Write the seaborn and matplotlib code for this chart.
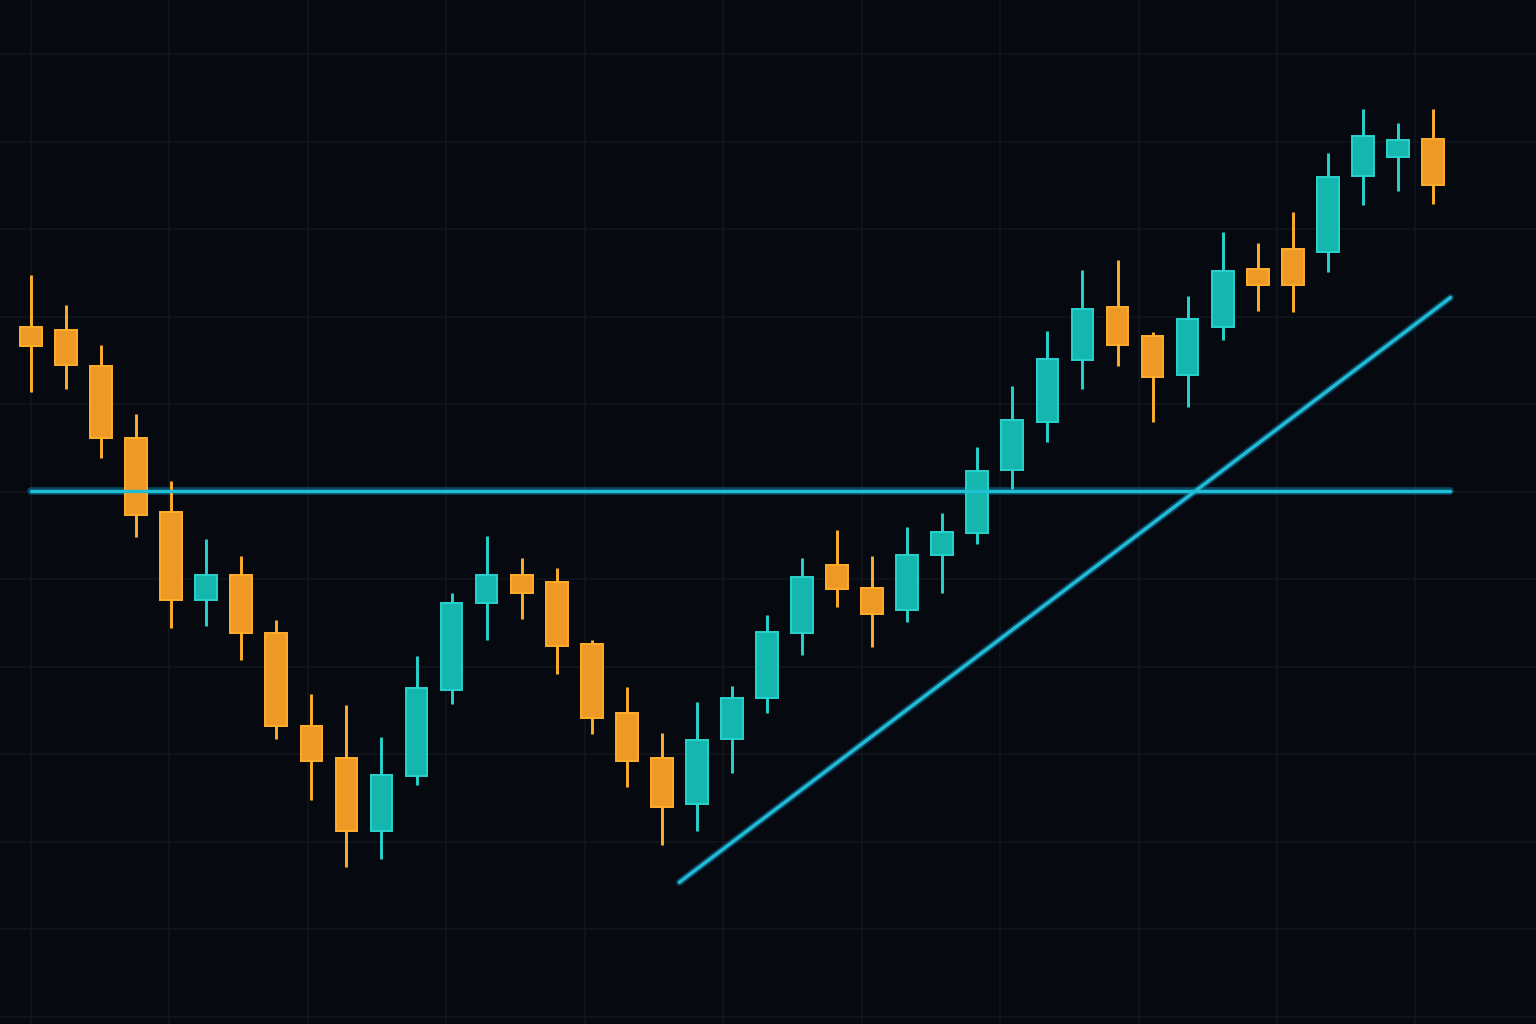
import numpy as np
import pandas as pd
import matplotlib
matplotlib.use("Agg")
import matplotlib.pyplot as plt
import seaborn as sns

# OHLC values (one candle per session)
opens = [78.8, 78.5, 74.4, 66.1, 57.7, 47.7, 50.5, 43.9, 33.3, 29.6,
         21.2, 27.5, 37.4, 47.3, 50.5, 49.7, 42.6, 34.7, 29.6, 24.3,
         31.8, 36.5, 43.9, 51.6, 49.0, 46.5, 52.8, 55.3, 62.5, 68.0,
         75.1, 81.1, 77.8, 73.3, 78.8, 85.5, 87.8, 87.4, 96.1, 98.3, 100.3]
closes = [76.7, 74.5, 66.1, 57.4, 47.7, 50.5, 43.9, 33.3, 29.3, 21.2,
          27.7, 37.6, 47.3, 50.5, 48.4, 42.4, 34.2, 29.3, 24.0, 31.7,
          36.5, 44.0, 50.3, 48.9, 46.1, 52.8, 55.4, 62.4, 68.2, 75.2,
          80.9, 76.8, 73.1, 79.7, 85.2, 83.6, 83.6, 96.0, 100.7, 100.2, 95.1]
highs = [84.8, 81.4, 76.8, 68.9, 61.2, 54.6, 52.7, 45.4, 36.9, 35.7,
         32.0, 41.3, 48.5, 55.0, 52.4, 51.3, 43.1, 37.7, 32.5, 36.0,
         37.8, 45.9, 52.4, 55.7, 52.7, 56.0, 57.6, 65.1, 72.1, 78.4,
         85.4, 86.5, 78.3, 82.4, 89.7, 88.4, 92.0, 98.7, 103.7, 102.1, 103.7]
lows = [71.4, 71.7, 63.9, 54.8, 44.5, 44.7, 40.8, 31.8, 24.8, 17.1,
        18.1, 26.5, 35.8, 43.1, 45.5, 39.2, 32.3, 26.3, 19.7, 21.2,
        27.9, 34.7, 41.4, 46.9, 42.3, 45.1, 48.5, 54.1, 60.3, 65.7,
        71.7, 74.4, 68.0, 69.7, 77.3, 80.7, 80.6, 85.1, 92.8, 94.4, 92.9]

# support level and rising trend line
support_level = 60.1
support_x = [0.0, 40.5]
trend_x = [18.5, 40.5]
trend_y = [15.4, 82.2]

df = pd.DataFrame({"open": opens, "close": closes, "high": highs, "low": lows})
df["day"] = np.arange(len(df))
df["up"] = df["close"] >= df["open"]

bg = "#060a10"
grid_col = "#10161d"
up_fill, up_edge = "#15b6ae", "#27d3cc"
down_fill, down_edge = "#ee9826", "#ffae2a"
line_col = "#1fc0d6"

sns.set_theme(style="dark", rc={"axes.facecolor": bg, "figure.facecolor": bg,
                                "grid.color": grid_col, "grid.linewidth": 1.2})

fig = plt.figure(figsize=(15.36, 10.24), dpi=100)
ax = fig.add_axes([0, 0, 1, 1])
ax.set_facecolor(bg)

# wicks and bodies
for is_up, fill, edge in [(True, up_fill, up_edge), (False, down_fill, down_edge)]:
    sub = df[df["up"] == is_up]
    ax.vlines(sub["day"], sub["low"], sub["high"], color=edge, linewidth=2.1, zorder=3)
    lo = sub[["open", "close"]].min(axis=1)
    hi = sub[["open", "close"]].max(axis=1)
    ax.bar(sub["day"], hi - lo, bottom=lo, width=0.62, color=fill,
           edgecolor=edge, linewidth=1.4, zorder=4)

# horizontal support line with soft glow
lines = pd.DataFrame({"x": support_x, "y": [support_level, support_level]})
sns.lineplot(data=lines, x="x", y="y", ax=ax, color="#0e6f9a", linewidth=5.5, alpha=0.6, zorder=2)
sns.lineplot(data=lines, x="x", y="y", ax=ax, color=line_col, linewidth=2.4, zorder=5)

trend = pd.DataFrame({"x": trend_x, "y": trend_y})
sns.lineplot(data=trend, x="x", y="y", ax=ax, color="#0e6f9a", linewidth=5.0, alpha=0.6, zorder=2)
sns.lineplot(data=trend, x="x", y="y", ax=ax, color="#22bcd6", linewidth=2.4, zorder=5)

ax.set_xlim(-0.884, 42.94)
ax.set_ylim(-0.8, 116.2)
ax.set_xticks(np.arange(0, 43, 3.95))
ax.set_yticks(np.arange(0, 120, 10))
ax.grid(True, color=grid_col, linewidth=1.2)
ax.set_xticklabels([])
ax.set_yticklabels([])
ax.tick_params(length=0)
ax.set_xlabel("")
ax.set_ylabel("")
for s in ax.spines.values():
    s.set_visible(False)

fig.savefig("out.png", dpi=100, facecolor=bg)
